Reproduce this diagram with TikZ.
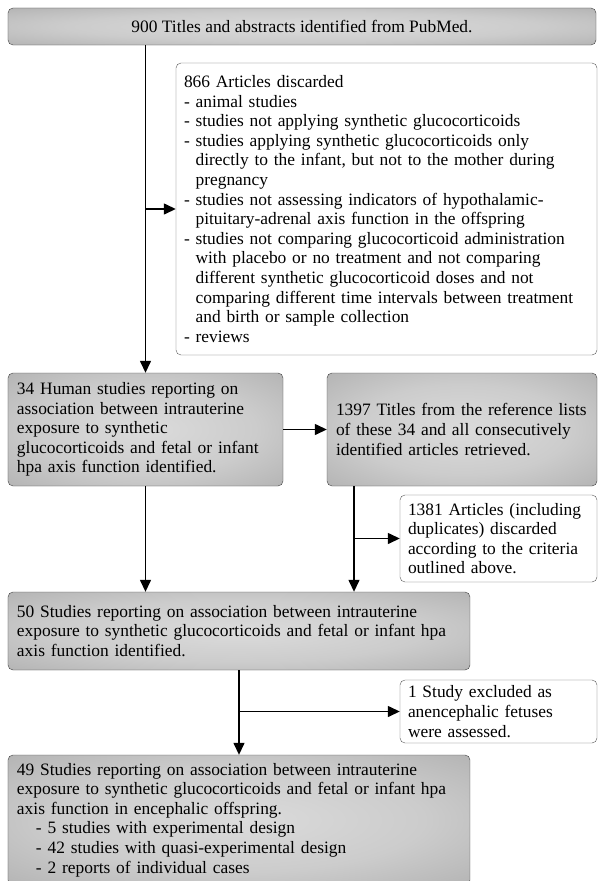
\documentclass[tikz,border=0pt]{standalone}
\usepackage{fontspec}
\setmainfont{Liberation Serif}
\usetikzlibrary{arrows.meta,shadings}

% soft grey glow, light in the middle and darker towards the edges
\pgfdeclareradialshading{boxglow}{\pgfpoint{0bp}{0bp}}{%
  color(0bp)=(black!14); color(20bp)=(black!20); color(70bp)=(black!50)}

\begin{document}
\begin{tikzpicture}[
        x=1bp, y=-1bp,
        every node/.style={font=\fontsize{17.4bp}{19.6bp}\selectfont},
        greybox/.style={rectangle, draw=black!75, rounded corners=5bp,
                     shading=boxglow, inner xsep=9bp, align=left},
        whitebox/.style={rectangle, draw=black!65, rounded corners=5bp,
                     fill=white, inner xsep=8bp, align=left},
        arrow/.style={draw, line width=1.4bp, -{Triangle[length=12bp,width=11bp]}},
        link/.style={draw, line width=1.4bp}
    ]
    \useasboundingbox (0,0) rectangle (598,881);

    % search steps
    \node[greybox, minimum width=588bp, minimum height=37bp, align=center] (pubmed) at (302,26.5)
        {900 Titles and abstracts identified from PubMed.};
    \node[whitebox, text width=405bp, minimum height=292bp] (discard) at (386.5,209)
        {866 Articles discarded\\
         - animal studies\\
         - studies not applying synthetic glucocorticoids\\
         - studies applying synthetic glucocorticoids only\\
         \hphantom{- }directly to the infant, but not to the mother during\\
         \hphantom{- }pregnancy\\
         - studies not assessing indicators of hypothalamic-\\
         \hphantom{- }pituitary-adrenal axis function in the offspring\\
         - studies not comparing glucocorticoid administration\\
         \hphantom{- }with placebo or no treatment and not comparing\\
         \hphantom{- }different synthetic glucocorticoid doses and not\\
         \hphantom{- }comparing different time intervals between treatment\\
         \hphantom{- }and birth or sample collection\\
         - reviews};
    \node[greybox, text width=257bp, minimum height=113bp] (human) at (145.5,429.5)
        {34 Human studies reporting on\\
         association between intrauterine\\
         exposure to synthetic\\
         glucocorticoids and fetal or infant\\
         hpa axis function identified.};
    \node[greybox, text width=252bp, minimum height=113bp] (reflist) at (462,429.5)
        {1397 Titles from the reference lists\\
         of these 34 and all consecutively\\
         identified articles retrieved.};
    \node[whitebox, text width=181bp, minimum height=87bp] (dupl) at (498.5,538.5)
        {1381 Articles (including\\
         duplicates) discarded\\
         according to the criteria\\
         outlined above.};
    \node[greybox, text width=444bp, minimum height=78bp] (fifty) at (239,631)
        {50 Studies reporting on association between intrauterine\\
         exposure to synthetic glucocorticoids and fetal or infant hpa\\
         axis function identified.};
    \node[whitebox, text width=181bp, minimum height=63bp] (anenc) at (498.5,711.5)
        {1 Study excluded as\\
         anencephalic fetuses\\
         were assessed.};
    \node[greybox, text width=444bp, minimum height=130bp] (final) at (239,820)
        {49 Studies reporting on association between intrauterine\\
         exposure to synthetic glucocorticoids and fetal or infant hpa\\
         axis function in encephalic offspring.\\
         \hspace{19bp}- 5 studies with experimental design\\
         \hspace{19bp}- 42 studies with quasi-experimental design\\
         \hspace{19bp}- 2 reports of individual cases};

    % connectors
    \coordinate (split1) at (human.north |- discard.west);
    \coordinate (split2) at (354,538.5);
    \coordinate (split3) at (fifty.south |- anenc.west);
    \draw[arrow] (pubmed.south -| human.north) -- (human.north);
    \draw[arrow] (split1) -- (discard.west);
    \draw[arrow] (human.east) -- (reflist.west);
    \draw[link] (reflist.south -| split2) -- (split2);
    \draw[arrow] (split2) -- (dupl.west);
    \draw[arrow] (split2) -- (fifty.north -| split2);
    \draw[arrow] (human.south) -- (fifty.north -| human.south);
    \draw[arrow] (fifty.south) -- (final.north);
    \draw[arrow] (split3) -- (anenc.west);

\end{tikzpicture}
\end{document}
